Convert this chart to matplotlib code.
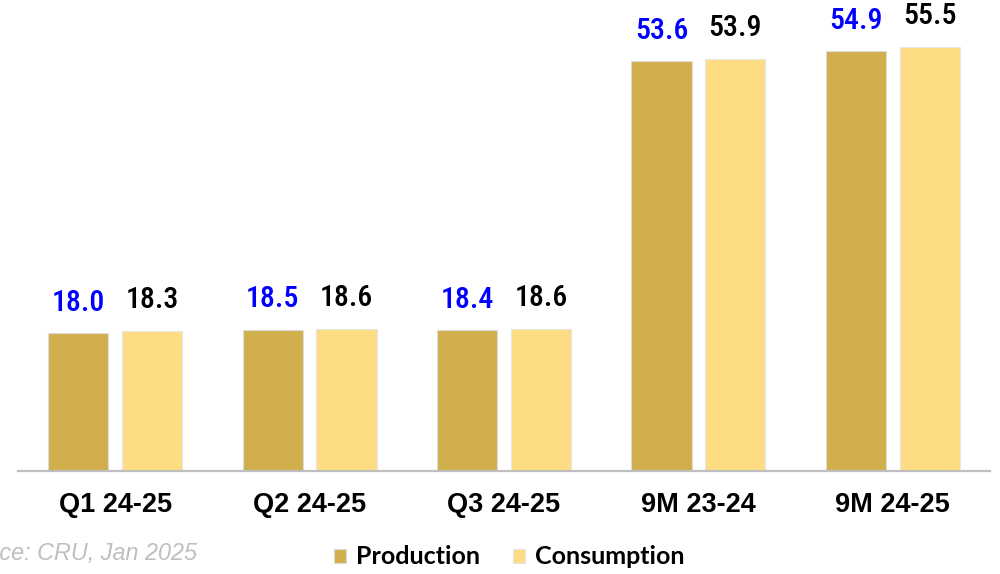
import matplotlib
matplotlib.use("Agg")
import matplotlib.pyplot as plt
from matplotlib import font_manager as fm
import numpy as np

categories = ["Q1 24-25", "Q2 24-25", "Q3 24-25", "9M 23-24", "9M 24-25"]
production = [18.0, 18.5, 18.4, 53.6, 54.9]
consumption = [18.3, 18.6, 18.6, 53.9, 55.5]
series_names = ["Production", "Consumption"]
source_text = "Source: CRU, Jan 2025"

prod_color = "#D2AF4D"
cons_color = "#FEDD82"


def narrow_font():
    prefs = ["Liberation Sans Narrow", "Arial Narrow", "Roboto Condensed", "Open Sans Condensed",
             "Noto Sans", "Roboto", "Open Sans", "Liberation Sans", "DejaVu Sans"]
    cands = []
    for f in fm.fontManager.ttflist:
        st = str(f.stretch).lower()
        isnarrow = ("narrow" in f.name.lower()) or ("condensed" in f.name.lower()) or \
                   (st in ("condensed", "semi-condensed", "extra-condensed"))
        if not isnarrow:
            continue
        if str(f.style) != "normal":
            continue
        try:
            wt = int(f.weight)
        except Exception:
            wt = 700 if "bold" in str(f.weight) else 400
        if wt not in (400, 500):
            continue
        wrank = 0 if wt == 500 else 1
        rank = prefs.index(f.name) if f.name in prefs else len(prefs)
        sq = 0 if st in ("condensed", "extra-condensed") or "narrow" in f.name.lower() else 1
        cands.append((rank, sq, wrank, f.fname))
    if cands:
        cands.sort()
        return fm.FontProperties(fname=cands[0][3]), True
    return fm.FontProperties(family=["Liberation Sans", "DejaVu Sans"]), False


label_fp, is_narrow = narrow_font()
label_fp.set_size(21.5 if is_narrow else 19)

fig = plt.figure(figsize=(10, 5.74), dpi=100)
ax = fig.add_axes([0.018, 103 / 574, 0.972, (471 - 10) / 574])

x = np.arange(len(categories))
w = 0.31
off = 0.19
b1 = ax.bar(x - off, production, w, color=prod_color, edgecolor="#DCDCDC", linewidth=0.8, label=series_names[0])
b2 = ax.bar(x + off, consumption, w, color=cons_color, edgecolor="#E6E6E6", linewidth=0.8, label=series_names[1])

ax.set_xlim(-0.5, len(categories) - 0.5)
ax.set_ylim(0, 60.3)

for xi, v in zip(x - off, production):
    ax.annotate(f"{v:.1f}", (xi, v), xytext=(0, 12), textcoords="offset points",
                ha="center", va="bottom", color="#0000FF", fontproperties=label_fp)
for xi, v in zip(x + off, consumption):
    ax.annotate(f"{v:.1f}", (xi, v), xytext=(0, 12), textcoords="offset points",
                ha="center", va="bottom", color="black", fontproperties=label_fp)

ax.set_xticks(x)
ax.set_xticklabels(categories, fontsize=19.5, fontweight="bold", family=["Liberation Sans", "DejaVu Sans"])
ax.tick_params(axis="x", length=0, pad=15)
ax.set_yticks([])
for s in ["left", "right", "top"]:
    ax.spines[s].set_visible(False)
ax.spines["bottom"].set_color("#BFBFBF")
ax.spines["bottom"].set_linewidth(1.6)
ax.patch.set_alpha(0)

fig.text(197 / 1000, 14 / 574, source_text, ha="right", va="baseline", fontsize=16.8,
         style="italic", color="#BFBFBF", family=["Liberation Sans", "DejaVu Sans"])

fig.legend(handles=[b1, b2], loc="center", bbox_to_anchor=(0.509, 1 - 557 / 574), ncol=2,
           frameon=False, prop={"family": "Lato", "weight": "bold", "size": 18},
           handlelength=0.5, handleheight=0.5, handletextpad=0.4, columnspacing=1.3,
           borderpad=0, borderaxespad=0)

fig.savefig("out.png", dpi=100)
